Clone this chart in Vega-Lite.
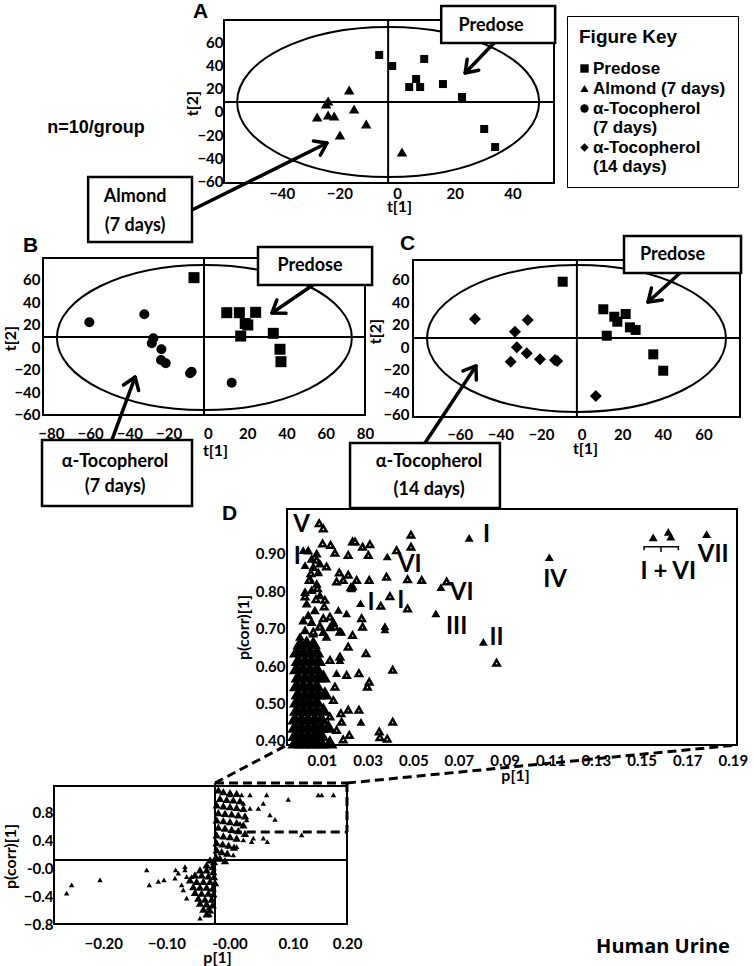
{
  "$schema": "https://vega.github.io/schema/vega-lite/v6.json",
  "background": "white",
  "width": 754,
  "height": 966,
  "autosize": {"type": "none"},
  "padding": 0,
  "resolve": {"scale": {"x": "independent", "y": "independent"}},
  "layer": [
    {
      "encoding": {
        "x": {"field": "x", "type": "quantitative", "scale": {"domain": [-137.653, 123.733], "nice": false, "zero": false}, "axis": {"orient": "bottom", "offset": -783, "values": [-40, -20, 0, 20, 40], "labelPadding": 3, "title": "t[1]", "titleX": 399, "titleY": 15}},
        "y": {"field": "y", "type": "quantitative", "scale": {"domain": [-738.82, 96.801], "nice": false, "zero": false}, "axis": {"orient": "left", "offset": -224, "values": [-60, -40, -20, 0, 20, 40, 60], "labelPadding": 1, "title": "t[2]", "titleX": -24, "titleY": 103}}
      },
      "layer": [
        {"data": {"values": [{"x": -60, "x2": 54.4, "y": -61.5, "y2": 79.5}]}, "mark": {"type": "rect", "filled": false, "stroke": "black", "strokeWidth": 2}, "encoding": {"x2": {"field": "x2"}, "y2": {"field": "y2"}}},
        {"data": {"values": [{"x": -3.1, "y": 8.6}]}, "mark": {"type": "point", "shape": "M 1 0 C 1 0.2745 0.5523 0.497 0 0.497 C -0.5523 0.497 -1 0.2745 -1 0 C -1 -0.2745 -0.5523 -0.497 0 -0.497 C 0.5523 -0.497 1 -0.2745 1 0 Z", "size": 91204, "filled": false, "stroke": "black", "strokeWidth": 2, "opacity": 1}},
        {"data": {"values": [
          {"seg": "v", "i": 0, "x": -3.1, "y": -61.5}, {"seg": "v", "i": 1, "x": -3.1, "y": 79.5},
          {"seg": "h", "i": 0, "x": -60, "y": 8.6}, {"seg": "h", "i": 1, "x": 54.4, "y": 8.6}]},
         "mark": {"type": "line", "stroke": "black", "strokeWidth": 2},
         "encoding": {"detail": {"field": "seg"}, "order": {"field": "i"}}},
        {"data": {"values": [
          {"group": "Predose", "x": -6.2, "y": 49.2}, {"group": "Predose", "x": -1.7, "y": 39.7}, {"group": "Predose", "x": 9.4, "y": 45.8},
          {"group": "Predose", "x": 6.6, "y": 28.5}, {"group": "Predose", "x": 4.2, "y": 21.5}, {"group": "Predose", "x": 8.0, "y": 21.5},
          {"group": "Predose", "x": 15.9, "y": 24.1}, {"group": "Predose", "x": 22.5, "y": 12.9}, {"group": "Predose", "x": 30.2, "y": -14.8},
          {"group": "Predose", "x": 34.0, "y": -30.4}]},
         "mark": {"type": "point", "filled": true, "color": "black", "opacity": 1, "size": 64},
         "encoding": {"shape": {"field": "group", "type": "nominal", "scale": {"domain": ["Predose", "Almond (7 days)", "α-Tocopherol (7 days)", "α-Tocopherol (14 days)"], "range": ["square", "triangle-up", "circle", "diamond"]},
           "legend": {"title": "Figure Key", "orient": "none", "legendX": 567, "legendY": 16,
             "labelExpr": "datum.label == 'α-Tocopherol (7 days)' ? ['α-Tocopherol', '(7 days)'] : datum.label == 'α-Tocopherol (14 days)' ? ['α-Tocopherol', '(14 days)'] : datum.label",
             "encode": {"legend": {"update": {"strokeWidth": {"value": 2.5}}}, "labels": {"update": {"lineHeight": {"value": 21}, "dy": {"signal": "indexof(datum.value, 'Tocopherol') >= 0 ? 10 : 0"}}}}}}}},
        {"data": {"values": [
          {"group": "Almond (7 days)", "x": -16.6, "y": 18.9}, {"group": "Almond (7 days)", "x": -23.9, "y": 9.4}, {"group": "Almond (7 days)", "x": -24.6, "y": 6.8},
          {"group": "Almond (7 days)", "x": -14.9, "y": 2.5}, {"group": "Almond (7 days)", "x": -27.7, "y": -4.4}, {"group": "Almond (7 days)", "x": -23.9, "y": -2.7},
          {"group": "Almond (7 days)", "x": -21.8, "y": -3.5}, {"group": "Almond (7 days)", "x": -10.7, "y": -10.5}, {"group": "Almond (7 days)", "x": -19.8, "y": -20.0},
          {"group": "Almond (7 days)", "x": 1.7, "y": -34.7}]},
         "mark": {"type": "point", "filled": true, "color": "black", "opacity": 1, "size": 110},
         "encoding": {"shape": {"field": "group", "type": "nominal", "scale": {"domain": ["Predose", "Almond (7 days)", "α-Tocopherol (7 days)", "α-Tocopherol (14 days)"], "range": ["square", "triangle-up", "circle", "diamond"]},
           "legend": {"title": "Figure Key", "orient": "none", "legendX": 567, "legendY": 16,
             "labelExpr": "datum.label == 'α-Tocopherol (7 days)' ? ['α-Tocopherol', '(7 days)'] : datum.label == 'α-Tocopherol (14 days)' ? ['α-Tocopherol', '(14 days)'] : datum.label",
             "encode": {"legend": {"update": {"strokeWidth": {"value": 2.5}}}, "labels": {"update": {"lineHeight": {"value": 21}, "dy": {"signal": "indexof(datum.value, 'Tocopherol') >= 0 ? 10 : 0"}}}}}}}},
        {"data": {"values": [
          {"seg": "s1", "i": 0, "x": 33.6, "y": 59.6}, {"seg": "s1", "i": 1, "x": 23.6, "y": 33.7},
          {"seg": "h1", "i": 0, "x": 28.3, "y": 36.0}, {"seg": "h1", "i": 1, "x": 23.6, "y": 33.7}, {"seg": "h1", "i": 2, "x": 24.3, "y": 45.6},
          {"seg": "s2", "i": 0, "x": -71.1, "y": -84.9}, {"seg": "s2", "i": 1, "x": -24.3, "y": -26.9},
          {"seg": "h2", "i": 0, "x": -29.0, "y": -25.1}, {"seg": "h2", "i": 1, "x": -24.3, "y": -26.9}, {"seg": "h2", "i": 2, "x": -26.6, "y": -37.5}]},
         "mark": {"type": "line", "stroke": "black", "strokeWidth": 3.5, "strokeCap": "round", "strokeJoin": "round"},
         "encoding": {"detail": {"field": "seg"}, "order": {"field": "i"}}},
        {"data": {"values": [{"x": 15.3, "x2": 54.8, "y": 91.6, "y2": 59.6}, {"x": -107.1, "x2": -71.1, "y": -56.3, "y2": -112.5}]},
         "mark": {"type": "rect", "fill": "white", "stroke": "black", "strokeWidth": 2.5},
         "encoding": {"x2": {"field": "x2"}, "y2": {"field": "y2"}}},
        {"data": {"values": [{"x": 32.6, "y": 73.9, "label": "Predose"}, {"x": -90.8, "y": -74.0, "label": "Almond"}, {"x": -90.8, "y": -98.7, "label": "(7 days)"}]},
         "mark": {"type": "text", "font": "Lato", "fontSize": 18, "fontWeight": "bold", "color": "black"},
         "encoding": {"text": {"field": "label", "type": "nominal"}}},
        {"data": {"values": [{"x": -104.37, "y": -13.92, "label": "n=10/group"}]},
         "mark": {"type": "text", "font": "Liberation Sans", "fontSize": 18, "fontWeight": "bold", "color": "black"},
         "encoding": {"text": {"field": "label", "type": "nominal"}}},
        {"data": {"values": [{"x": -70.75, "y": 81.23, "label": "A"}]},
         "mark": {"type": "text", "font": "Liberation Sans", "fontSize": 21, "fontWeight": "bold", "color": "black", "align": "left", "baseline": "alphabetic"},
         "encoding": {"text": {"field": "label", "type": "nominal"}}}
      ]
    },
    {
      "encoding": {
        "x": {"field": "x", "type": "quantitative", "scale": {"domain": [-105.901, 278.124], "nice": false, "zero": false}, "axis": {"orient": "bottom", "offset": -551, "values": [-80, -60, -40, -20, 0, 20, 40, 60, 80], "labelPadding": 11, "title": "t[1]", "titleX": 215, "titleY": 27}},
        "y": {"field": "y", "type": "quantitative", "scale": {"domain": [-547.829, 307.42], "nice": false, "zero": false}, "axis": {"orient": "left", "offset": -43, "values": [-60, -40, -20, 0, 20, 40, 60], "labelPadding": 3, "title": "t[2]", "titleX": -25, "titleY": 338}}
      },
      "layer": [
        {"data": {"values": [{"x": -84, "x2": 80, "y": -60, "y2": 79}]}, "mark": {"type": "rect", "filled": false, "stroke": "black", "strokeWidth": 2}, "encoding": {"x2": {"field": "x2"}, "y2": {"field": "y2"}}},
        {"data": {"values": [{"x": -1.8, "y": 8.6}]}, "mark": {"type": "point", "shape": "M 1 0 C 1 0.2715 0.5523 0.4915 0 0.4915 C -0.5523 0.4915 -1 0.2715 -1 0 C -1 -0.2715 -0.5523 -0.4915 0 -0.4915 C 0.5523 -0.4915 1 -0.2715 1 0 Z", "size": 87025, "filled": false, "stroke": "black", "strokeWidth": 2, "opacity": 1}},
        {"data": {"values": [
          {"seg": "v", "i": 0, "x": -2.0, "y": -60}, {"seg": "v", "i": 1, "x": -2.0, "y": 79},
          {"seg": "h", "i": 0, "x": -84, "y": 9.1}, {"seg": "h", "i": 1, "x": 80, "y": 9.1}]},
         "mark": {"type": "line", "stroke": "black", "strokeWidth": 2},
         "encoding": {"detail": {"field": "seg"}, "order": {"field": "i"}}},
        {"data": {"values": [
          {"group": "Predose", "x": -7.1, "y": 61.6}, {"group": "Predose", "x": 9.6, "y": 30.6}, {"group": "Predose", "x": 16.0, "y": 30.6},
          {"group": "Predose", "x": 24.3, "y": 30.9}, {"group": "Predose", "x": 20.3, "y": 19.7}, {"group": "Predose", "x": 16.7, "y": 9.9},
          {"group": "Predose", "x": 33.3, "y": 12.3}, {"group": "Predose", "x": 36.7, "y": -1.8}, {"group": "Predose", "x": 37.2, "y": -12.8},
          {"group": "Predose", "x": 19.0, "y": 21.0}]},
         "mark": {"type": "point", "filled": true, "color": "black", "opacity": 1, "size": 121},
         "encoding": {"shape": {"field": "group", "type": "nominal", "scale": {"domain": ["Predose", "Almond (7 days)", "α-Tocopherol (7 days)", "α-Tocopherol (14 days)"], "range": ["square", "triangle-up", "circle", "diamond"]},
           "legend": {"title": "Figure Key", "orient": "none", "legendX": 567, "legendY": 16,
             "labelExpr": "datum.label == 'α-Tocopherol (7 days)' ? ['α-Tocopherol', '(7 days)'] : datum.label == 'α-Tocopherol (14 days)' ? ['α-Tocopherol', '(14 days)'] : datum.label",
             "encode": {"legend": {"update": {"strokeWidth": {"value": 2.5}}}, "labels": {"update": {"lineHeight": {"value": 21}, "dy": {"signal": "indexof(datum.value, 'Tocopherol') >= 0 ? 10 : 0"}}}}}}}},
        {"data": {"values": [
          {"group": "α-Tocopherol (7 days)", "x": -60.4, "y": 22.1}, {"group": "α-Tocopherol (7 days)", "x": -32.4, "y": 29.2}, {"group": "α-Tocopherol (7 days)", "x": -27.8, "y": 7.9},
          {"group": "α-Tocopherol (7 days)", "x": -28.6, "y": 3.5}, {"group": "α-Tocopherol (7 days)", "x": -23.7, "y": -1.8}, {"group": "α-Tocopherol (7 days)", "x": -23.9, "y": -11.3},
          {"group": "α-Tocopherol (7 days)", "x": -21.5, "y": -14.2}, {"group": "α-Tocopherol (7 days)", "x": -8.3, "y": -21.7}, {"group": "α-Tocopherol (7 days)", "x": -9.1, "y": -23.1},
          {"group": "α-Tocopherol (7 days)", "x": 12.1, "y": -31.4}]},
         "mark": {"type": "point", "filled": true, "color": "black", "opacity": 1, "size": 100},
         "encoding": {"shape": {"field": "group", "type": "nominal", "scale": {"domain": ["Predose", "Almond (7 days)", "α-Tocopherol (7 days)", "α-Tocopherol (14 days)"], "range": ["square", "triangle-up", "circle", "diamond"]},
           "legend": {"title": "Figure Key", "orient": "none", "legendX": 567, "legendY": 16,
             "labelExpr": "datum.label == 'α-Tocopherol (7 days)' ? ['α-Tocopherol', '(7 days)'] : datum.label == 'α-Tocopherol (14 days)' ? ['α-Tocopherol', '(14 days)'] : datum.label",
             "encode": {"legend": {"update": {"strokeWidth": {"value": 2.5}}}, "labels": {"update": {"lineHeight": {"value": 21}, "dy": {"signal": "indexof(datum.value, 'Tocopherol') >= 0 ? 10 : 0"}}}}}}}},
        {"data": {"values": [
          {"seg": "s1", "i": 0, "x": 53.5, "y": 55.1}, {"seg": "s1", "i": 1, "x": 32.6, "y": 30.3},
          {"seg": "h1", "i": 0, "x": 39.8, "y": 30.1}, {"seg": "h1", "i": 1, "x": 32.6, "y": 30.3}, {"seg": "h1", "i": 2, "x": 35.1, "y": 41.9},
          {"seg": "s2", "i": 0, "x": -48.9, "y": -82.1}, {"seg": "s2", "i": 1, "x": -37.1, "y": -26.4},
          {"seg": "h2", "i": 0, "x": -43.0, "y": -33.4}, {"seg": "h2", "i": 1, "x": -37.1, "y": -26.4}, {"seg": "h2", "i": 2, "x": -35.3, "y": -38.3}]},
         "mark": {"type": "line", "stroke": "black", "strokeWidth": 3.5, "strokeCap": "round", "strokeJoin": "round"},
         "encoding": {"detail": {"field": "seg"}, "order": {"field": "i"}}},
        {"data": {"values": [{"x": 25.5, "x2": 83.6, "y": 88.7, "y2": 55.1}, {"x": -84.5, "x2": -8.1, "y": -82.1, "y2": -140.6}]},
         "mark": {"type": "rect", "fill": "white", "stroke": "black", "strokeWidth": 2.5},
         "encoding": {"x2": {"field": "x2"}, "y2": {"field": "y2"}}},
        {"data": {"values": [{"x": 52.0, "y": 71.9, "label": "Predose"}, {"x": -47.3, "y": -101.6, "label": "α-Tocopherol"}, {"x": -47.3, "y": -123.7, "label": "(7 days)"}]},
         "mark": {"type": "text", "font": "Lato", "fontSize": 18, "fontWeight": "bold", "color": "black"},
         "encoding": {"text": {"field": "label", "type": "nominal"}}},
        {"data": {"values": [{"x": -94.19, "y": 84.31, "label": "B"}]},
         "mark": {"type": "text", "font": "Liberation Sans", "fontSize": 21, "fontWeight": "bold", "color": "black", "align": "left", "baseline": "alphabetic"},
         "encoding": {"text": {"field": "label", "type": "nominal"}}}
      ]
    },
    {
      "encoding": {
        "x": {"field": "x", "type": "quantitative", "scale": {"domain": [-286.342, 84.893], "nice": false, "zero": false}, "axis": {"orient": "bottom", "offset": -549, "values": [-60, -40, -20, 0, 20, 40, 60], "labelPadding": 10, "title": "t[1]", "titleX": 585, "titleY": 23}},
        "y": {"field": "y", "type": "quantitative", "scale": {"domain": [-547.829, 307.42], "nice": false, "zero": false}, "axis": {"orient": "left", "offset": -413, "values": [-60, -40, -20, 0, 20, 40, 60], "labelPadding": 4, "title": "t[2]", "titleX": -30, "titleY": 331}}
      },
      "layer": [
        {"data": {"values": [{"x": -83, "x2": 78, "y": -61.77, "y2": 77.23}]}, "mark": {"type": "rect", "filled": false, "stroke": "black", "strokeWidth": 2}, "encoding": {"x2": {"field": "x2"}, "y2": {"field": "y2"}}},
        {"data": {"values": [{"x": -2.5, "y": 7.7}]}, "mark": {"type": "point", "shape": "M 1 0 C 1 0.2715 0.5523 0.4915 0 0.4915 C -0.5523 0.4915 -1 0.2715 -1 0 C -1 -0.2715 -0.5523 -0.4915 0 -0.4915 C 0.5523 -0.4915 1 -0.2715 1 0 Z", "size": 89401, "filled": false, "stroke": "black", "strokeWidth": 2, "opacity": 1}},
        {"data": {"values": [
          {"seg": "v", "i": 0, "x": -2.3, "y": -61.77}, {"seg": "v", "i": 1, "x": -2.3, "y": 77.23},
          {"seg": "h", "i": 0, "x": -83, "y": 8.2}, {"seg": "h", "i": 1, "x": 78, "y": 8.2}]},
         "mark": {"type": "line", "stroke": "black", "strokeWidth": 2},
         "encoding": {"detail": {"field": "seg"}, "order": {"field": "i"}}},
        {"data": {"values": [
          {"group": "Predose", "x": -9.3, "y": 58.0}, {"group": "Predose", "x": 10.7, "y": 33.6}, {"group": "Predose", "x": 16.1, "y": 27.0},
          {"group": "Predose", "x": 21.7, "y": 29.4}, {"group": "Predose", "x": 17.6, "y": 22.6}, {"group": "Predose", "x": 23.8, "y": 17.6},
          {"group": "Predose", "x": 26.6, "y": 15.3}, {"group": "Predose", "x": 12.4, "y": 10.2}, {"group": "Predose", "x": 35.3, "y": -6.3},
          {"group": "Predose", "x": 40.2, "y": -20.8}]},
         "mark": {"type": "point", "filled": true, "color": "black", "opacity": 1, "size": 100},
         "encoding": {"shape": {"field": "group", "type": "nominal", "scale": {"domain": ["Predose", "Almond (7 days)", "α-Tocopherol (7 days)", "α-Tocopherol (14 days)"], "range": ["square", "triangle-up", "circle", "diamond"]},
           "legend": {"title": "Figure Key", "orient": "none", "legendX": 567, "legendY": 16,
             "labelExpr": "datum.label == 'α-Tocopherol (7 days)' ? ['α-Tocopherol', '(7 days)'] : datum.label == 'α-Tocopherol (14 days)' ? ['α-Tocopherol', '(14 days)'] : datum.label",
             "encode": {"legend": {"update": {"strokeWidth": {"value": 2.5}}}, "labels": {"update": {"lineHeight": {"value": 21}, "dy": {"signal": "indexof(datum.value, 'Tocopherol') >= 0 ? 10 : 0"}}}}}}}},
        {"data": {"values": [
          {"group": "α-Tocopherol (14 days)", "x": -52.5, "y": 25.0}, {"group": "α-Tocopherol (14 days)", "x": -26.5, "y": 24.1}, {"group": "α-Tocopherol (14 days)", "x": -32.8, "y": 13.7},
          {"group": "α-Tocopherol (14 days)", "x": -31.9, "y": -0.1}, {"group": "α-Tocopherol (14 days)", "x": -27.0, "y": -5.4}, {"group": "α-Tocopherol (14 days)", "x": -20.5, "y": -10.7},
          {"group": "α-Tocopherol (14 days)", "x": -34.9, "y": -12.8}, {"group": "α-Tocopherol (14 days)", "x": -13.1, "y": -11.3}, {"group": "α-Tocopherol (14 days)", "x": 7.0, "y": -43.2},
          {"group": "α-Tocopherol (14 days)", "x": -12.0, "y": -12.3}]},
         "mark": {"type": "point", "filled": true, "color": "black", "opacity": 1, "size": 144},
         "encoding": {"shape": {"field": "group", "type": "nominal", "scale": {"domain": ["Predose", "Almond (7 days)", "α-Tocopherol (7 days)", "α-Tocopherol (14 days)"], "range": ["square", "triangle-up", "circle", "diamond"]},
           "legend": {"title": "Figure Key", "orient": "none", "legendX": 567, "legendY": 16,
             "labelExpr": "datum.label == 'α-Tocopherol (7 days)' ? ['α-Tocopherol', '(7 days)'] : datum.label == 'α-Tocopherol (14 days)' ? ['α-Tocopherol', '(14 days)'] : datum.label",
             "encode": {"legend": {"update": {"strokeWidth": {"value": 2.5}}}, "labels": {"update": {"lineHeight": {"value": 21}, "dy": {"signal": "indexof(datum.value, 'Tocopherol') >= 0 ? 10 : 0"}}}}}}}},
        {"data": {"values": [
          {"seg": "s1", "i": 0, "x": 48.5, "y": 65.7}, {"seg": "s1", "i": 1, "x": 32.7, "y": 40.0},
          {"seg": "h1", "i": 0, "x": 39.7, "y": 41.8}, {"seg": "h1", "i": 1, "x": 32.7, "y": 40.0}, {"seg": "h1", "i": 2, "x": 34.4, "y": 52.4},
          {"seg": "s2", "i": 0, "x": -77.1, "y": -84.8}, {"seg": "s2", "i": 1, "x": -52.0, "y": -16.6},
          {"seg": "h2", "i": 0, "x": -58.4, "y": -21.0}, {"seg": "h2", "i": 1, "x": -52.0, "y": -16.6}, {"seg": "h2", "i": 2, "x": -51.8, "y": -29.0}]},
         "mark": {"type": "line", "stroke": "black", "strokeWidth": 3.5, "strokeCap": "round", "strokeJoin": "round"},
         "encoding": {"detail": {"field": "seg"}, "order": {"field": "i"}}},
        {"data": {"values": [{"x": 20.9, "x2": 78.5, "y": 98.5, "y2": 65.7}, {"x": -114.0, "x2": -40.2, "y": -84.8, "y2": -142.3}]},
         "mark": {"type": "rect", "fill": "white", "stroke": "black", "strokeWidth": 2.5},
         "encoding": {"x2": {"field": "x2"}, "y2": {"field": "y2"}}},
        {"data": {"values": [{"x": 44.8, "y": 81.7, "label": "Predose"}, {"x": -75.1, "y": -101.6, "label": "α-Tocopherol"}, {"x": -75.1, "y": -126.4, "label": "(14 days)"}]},
         "mark": {"type": "text", "font": "Lato", "fontSize": 18, "fontWeight": "bold", "color": "black"},
         "encoding": {"text": {"field": "label", "type": "nominal"}}},
        {"data": {"values": [{"x": -89.4, "y": 86.08, "label": "C"}]},
         "mark": {"type": "text", "font": "Liberation Sans", "fontSize": 21, "fontWeight": "bold", "color": "black", "align": "left", "baseline": "alphabetic"},
         "encoding": {"text": {"field": "label", "type": "nominal"}}}
      ]
    },
    {
      "encoding": {
        "x": {"field": "x", "type": "quantitative", "scale": {"domain": [-0.131006, 0.199246], "nice": false, "zero": false}, "axis": {"orient": "bottom", "offset": -221, "values": [0.01, 0.03, 0.05, 0.07, 0.09, 0.11, 0.13, 0.15, 0.17, 0.19], "format": ".2f", "labelPadding": 8, "title": "p[1]", "titleX": 515, "titleY": 22}},
        "y": {"field": "y", "type": "quantitative", "scale": {"domain": [-0.20189, 2.38093], "nice": false, "zero": false}, "axis": {"orient": "left", "offset": -287, "values": [0.4, 0.5, 0.6, 0.7, 0.8, 0.9], "format": ".2f", "labelPadding": 2, "title": "p(corr)[1]", "titleX": -36, "titleY": 627}}
      },
      "layer": [
        {"data": {"values": [{"x": -0.0053, "x2": 0.1918, "y": 0.389, "y2": 1.02}]}, "mark": {"type": "rect", "filled": false, "stroke": "black", "strokeWidth": 2}, "encoding": {"x2": {"field": "x2"}, "y2": {"field": "y2"}}},
        {"data": {"values": [
          {"x": 0.0004, "y": 0.661}, {"x": 0.0033, "y": 0.661}, {"x": 0.0062, "y": 0.661},
          {"x": -0.0011, "y": 0.639}, {"x": 0.0018, "y": 0.639}, {"x": 0.0047, "y": 0.639}, {"x": 0.0077, "y": 0.639},
          {"x": -0.0004, "y": 0.616}, {"x": 0.0026, "y": 0.616}, {"x": 0.0055, "y": 0.616}, {"x": 0.0084, "y": 0.616},
          {"x": -0.0011, "y": 0.594}, {"x": 0.0018, "y": 0.594}, {"x": 0.0047, "y": 0.594}, {"x": 0.0077, "y": 0.594},
          {"x": -0.0004, "y": 0.572}, {"x": 0.0026, "y": 0.572}, {"x": 0.0055, "y": 0.572}, {"x": 0.0084, "y": 0.572}, {"x": 0.0106, "y": 0.572},
          {"x": -0.0011, "y": 0.549}, {"x": 0.0018, "y": 0.549}, {"x": 0.0047, "y": 0.549}, {"x": 0.0077, "y": 0.549},
          {"x": -0.0004, "y": 0.527}, {"x": 0.0026, "y": 0.527}, {"x": 0.0055, "y": 0.527}, {"x": 0.0084, "y": 0.527}, {"x": 0.0113, "y": 0.527},
          {"x": -0.0011, "y": 0.505}, {"x": 0.0018, "y": 0.505}, {"x": 0.0047, "y": 0.505}, {"x": 0.0077, "y": 0.505},
          {"x": -0.0011, "y": 0.483}, {"x": 0.0018, "y": 0.483}, {"x": 0.0047, "y": 0.483}, {"x": 0.0077, "y": 0.483}, {"x": 0.0106, "y": 0.483},
          {"x": -0.0018, "y": 0.46}, {"x": 0.0011, "y": 0.46}, {"x": 0.004, "y": 0.46}, {"x": 0.0069, "y": 0.46}, {"x": 0.0098, "y": 0.46},
          {"x": -0.0018, "y": 0.438}, {"x": 0.0011, "y": 0.438}, {"x": 0.004, "y": 0.438}, {"x": 0.0069, "y": 0.438}, {"x": 0.0098, "y": 0.438}, {"x": 0.0128, "y": 0.438},
          {"x": -0.0018, "y": 0.416}, {"x": 0.0011, "y": 0.416}, {"x": 0.004, "y": 0.416}, {"x": 0.0069, "y": 0.416}, {"x": 0.0098, "y": 0.416},
          {"x": -0.0018, "y": 0.396}, {"x": 0.0011, "y": 0.396}, {"x": 0.004, "y": 0.396}, {"x": 0.0069, "y": 0.396}, {"x": 0.0098, "y": 0.396}, {"x": 0.0135, "y": 0.396}]},
         "mark": {"type": "point", "shape": "triangle-up", "filled": true, "color": "black", "stroke": "black", "strokeWidth": 2.5, "opacity": 1, "size": 120}},
        {"data": {"values": [
          {"x": 0.004, "y": 0.91}, {"x": 0.0077, "y": 0.902}, {"x": 0.0055, "y": 0.888}, {"x": 0.0091, "y": 0.875}, {"x": 0.0062, "y": 0.866},
          {"x": 0.0084, "y": 0.852}, {"x": 0.0047, "y": 0.835}, {"x": 0.0077, "y": 0.821}, {"x": 0.0026, "y": 0.799}, {"x": 0.0055, "y": 0.804},
          {"x": 0.0091, "y": 0.79}, {"x": 0.0033, "y": 0.768}, {"x": 0.0069, "y": 0.75}, {"x": 0.004, "y": 0.737}, {"x": 0.0018, "y": 0.723},
          {"x": 0.0055, "y": 0.719}, {"x": 0.0091, "y": 0.71}, {"x": 0.0026, "y": 0.697}, {"x": 0.0062, "y": 0.688}, {"x": 0.0106, "y": 0.692},
          {"x": 0.0135, "y": 0.705}, {"x": 0.015, "y": 0.719}, {"x": 0.012, "y": 0.679}, {"x": 0.0004, "y": 0.679}, {"x": 0.0033, "y": 0.67}]},
         "mark": {"type": "point", "shape": "triangle-up", "filled": true, "color": "black", "opacity": 1, "size": 100}},
        {"data": {"values": [
          {"x": 0.0088, "y": 0.982}, {"x": 0.0106, "y": 0.968}, {"x": 0.0103, "y": 0.928}, {"x": 0.0138, "y": 0.924}, {"x": 0.0157, "y": 0.903},
          {"x": 0.0215, "y": 0.897}, {"x": 0.0234, "y": 0.933}, {"x": 0.0245, "y": 0.933}, {"x": 0.0278, "y": 0.919}, {"x": 0.0303, "y": 0.897},
          {"x": 0.031, "y": 0.926}, {"x": 0.0427, "y": 0.91}, {"x": 0.049, "y": 0.951}, {"x": 0.049, "y": 0.919}, {"x": 0.0475, "y": 0.832},
          {"x": 0.0537, "y": 0.83}, {"x": 0.0646, "y": 0.826}, {"x": 0.0383, "y": 0.839}, {"x": 0.0307, "y": 0.83}, {"x": 0.0252, "y": 0.83},
          {"x": 0.0215, "y": 0.844}, {"x": 0.0193, "y": 0.83}, {"x": 0.0164, "y": 0.826}, {"x": 0.0176, "y": 0.85}, {"x": 0.0227, "y": 0.811},
          {"x": 0.011, "y": 0.759}, {"x": 0.0074, "y": 0.779}, {"x": 0.0026, "y": 0.786}, {"x": 0.0113, "y": 0.777}, {"x": 0.0044, "y": 0.83},
          {"x": 0.0052, "y": 0.848}, {"x": 0.008, "y": 0.808}, {"x": 0.0106, "y": 0.728}, {"x": 0.0274, "y": 0.728}, {"x": 0.0278, "y": 0.705},
          {"x": 0.0398, "y": 0.787}, {"x": 0.0358, "y": 0.761}, {"x": 0.0475, "y": 0.754}, {"x": 0.0234, "y": 0.683}, {"x": 0.0293, "y": 0.634},
          {"x": 0.041, "y": 0.59}, {"x": 0.0262, "y": 0.581}, {"x": 0.0208, "y": 0.576}, {"x": 0.0307, "y": 0.558}, {"x": 0.0299, "y": 0.545},
          {"x": 0.0215, "y": 0.483}, {"x": 0.0262, "y": 0.483}, {"x": 0.0183, "y": 0.474}, {"x": 0.0186, "y": 0.451}, {"x": 0.041, "y": 0.451},
          {"x": 0.022, "y": 0.416}, {"x": 0.0351, "y": 0.425}, {"x": 0.0354, "y": 0.41}, {"x": 0.0386, "y": 0.406}, {"x": 0.0193, "y": 0.404},
          {"x": 0.0865, "y": 0.609}, {"x": 0.0135, "y": 0.732}, {"x": 0.0157, "y": 0.705}, {"x": 0.0179, "y": 0.692}, {"x": 0.0091, "y": 0.705},
          {"x": 0.0062, "y": 0.692}, {"x": 0.0215, "y": 0.652}, {"x": 0.0179, "y": 0.625}, {"x": 0.0135, "y": 0.616}, {"x": 0.0157, "y": 0.545},
          {"x": 0.015, "y": 0.509}, {"x": 0.0135, "y": 0.465}, {"x": 0.0164, "y": 0.429}, {"x": 0.012, "y": 0.866}, {"x": 0.0077, "y": 0.884}]},
         "mark": {"type": "point", "shape": "triangle-up", "filled": true, "fill": "white", "stroke": "black", "strokeWidth": 2.5, "opacity": 1, "size": 40}},
        {"data": {"values": [
          {"x": 0.0018, "y": 0.91}, {"x": 0.0026, "y": 0.87}, {"x": 0.0386, "y": 0.893}, {"x": 0.0745, "y": 0.943}, {"x": 0.0621, "y": 0.811},
          {"x": 0.0269, "y": 0.768}, {"x": 0.0599, "y": 0.741}, {"x": 0.0807, "y": 0.665}, {"x": 0.0376, "y": 0.707}, {"x": 0.0376, "y": 0.698},
          {"x": 0.0271, "y": 0.451}, {"x": 0.0208, "y": 0.741}, {"x": 0.0172, "y": 0.75}, {"x": 0.0237, "y": 0.813}, {"x": 0.023, "y": 0.808},
          {"x": 0.0186, "y": 0.692}, {"x": 0.0164, "y": 0.581}, {"x": 0.0179, "y": 0.616}, {"x": 0.1096, "y": 0.891}, {"x": 0.1551, "y": 0.944},
          {"x": 0.1617, "y": 0.959}, {"x": 0.1628, "y": 0.946}, {"x": 0.1785, "y": 0.953}]},
         "mark": {"type": "point", "shape": "triangle-up", "filled": true, "color": "black", "opacity": 1, "size": 80}},
        {"data": {"values": [
          {"seg": "b1", "i": 0, "x": 0.1511, "y": 0.91}, {"seg": "b1", "i": 1, "x": 0.1511, "y": 0.919}, {"seg": "b1", "i": 2, "x": 0.1661, "y": 0.919}, {"seg": "b1", "i": 3, "x": 0.1661, "y": 0.91},
          {"seg": "b2", "i": 0, "x": 0.1585, "y": 0.919}, {"seg": "b2", "i": 1, "x": 0.1585, "y": 0.905}]},
         "mark": {"type": "line", "stroke": "black", "strokeWidth": 1.5},
         "encoding": {"detail": {"field": "seg"}, "order": {"field": "i"}}},
        {"data": {"values": [
          {"x": 0.0011, "y": 0.977, "label": "V"}, {"x": -0.0008, "y": 0.891, "label": "I"}, {"x": 0.0821, "y": 0.95, "label": "I"},
          {"x": 0.0485, "y": 0.87, "label": "VI"}, {"x": 0.0712, "y": 0.795, "label": "VI"}, {"x": 0.0315, "y": 0.768, "label": "I"},
          {"x": 0.0445, "y": 0.774, "label": "I"}, {"x": 0.069, "y": 0.705, "label": "III"}, {"x": 0.0865, "y": 0.674, "label": "II"},
          {"x": 0.1121, "y": 0.83, "label": "IV"}, {"x": 0.1617, "y": 0.852, "label": "I + VI"}, {"x": 0.1814, "y": 0.897, "label": "VII"}]},
         "mark": {"type": "text", "font": "Lato", "fontSize": 24, "fontWeight": "bold", "color": "black"},
         "encoding": {"text": {"field": "label", "type": "nominal"}}},
        {"data": {"values": [{"x": -0.03377, "y": 0.99059, "label": "D"}]},
         "mark": {"type": "text", "font": "Liberation Sans", "fontSize": 21, "fontWeight": "bold", "color": "black", "align": "left", "baseline": "alphabetic"},
         "encoding": {"text": {"field": "label", "type": "nominal"}}}
      ]
    },
    {
      "encoding": {
        "x": {"field": "x", "type": "quantitative", "scale": {"domain": [-0.363243, 0.829795], "nice": false, "zero": false}, "axis": {"orient": "bottom", "offset": -42, "values": [-0.2, -0.1, 0, 0.1, 0.1858], "labelExpr": "datum.value > 0.15 ? '0.20' : datum.value == 0 ? '-0.00' : format(datum.value, '.2f')", "labelPadding": 12, "title": "p[1]", "titleX": 217, "titleY": 25}},
        "y": {"field": "y", "type": "quantitative", "scale": {"domain": [-1.40078, 12.4172], "nice": false, "zero": false}, "axis": {"orient": "left", "offset": -54, "values": [-0.8, -0.4, 0, 0.4, 0.8], "labelExpr": "datum.value == 0 ? '-0.0' : format(datum.value, '.1f')", "labelPadding": 1, "title": "p(corr)[1]", "titleX": -36, "titleY": 856}}
      },
      "layer": [
        {"data": {"values": [{"x": -0.2778, "x2": 0.1858, "y": -0.8, "y2": 1.174}]}, "mark": {"type": "rect", "filled": false, "stroke": "black", "strokeWidth": 2}, "encoding": {"x2": {"field": "x2"}, "y2": {"field": "y2"}}},
        {"data": {"values": [
          {"seg": "v", "i": 0, "x": -0.0231, "y": -0.8}, {"seg": "v", "i": 1, "x": -0.0231, "y": 1.217},
          {"seg": "h", "i": 0, "x": -0.2778, "y": 0.117}, {"seg": "h", "i": 1, "x": 0.1858, "y": 0.117}]},
         "mark": {"type": "line", "stroke": "black", "strokeWidth": 2},
         "encoding": {"detail": {"field": "seg"}, "order": {"field": "i"}}},
        {"data": {"values": [
          {"x": -0.031, "y": 0.117}, {"x": -0.0247, "y": 0.093}, {"x": -0.0363, "y": 0.046}, {"x": -0.0268, "y": 0.022}, {"x": -0.0468, "y": -0.026},
          {"x": -0.0363, "y": -0.026}, {"x": -0.0257, "y": -0.05}, {"x": -0.0547, "y": -0.097}, {"x": -0.0442, "y": -0.097}, {"x": -0.0336, "y": -0.111},
          {"x": -0.0247, "y": -0.121}, {"x": -0.0626, "y": -0.168}, {"x": -0.0521, "y": -0.192}, {"x": -0.0415, "y": -0.192}, {"x": -0.031, "y": -0.192},
          {"x": -0.0231, "y": -0.207}, {"x": -0.0574, "y": -0.264}, {"x": -0.0468, "y": -0.273}, {"x": -0.0363, "y": -0.273}, {"x": -0.0268, "y": -0.287},
          {"x": -0.0547, "y": -0.349}, {"x": -0.0442, "y": -0.359}, {"x": -0.0336, "y": -0.359}, {"x": -0.0257, "y": -0.368}, {"x": -0.0495, "y": -0.43},
          {"x": -0.0389, "y": -0.445}, {"x": -0.0283, "y": -0.445}, {"x": -0.0468, "y": -0.502}, {"x": -0.0363, "y": -0.511}, {"x": -0.0268, "y": -0.526},
          {"x": -0.0415, "y": -0.588}, {"x": -0.031, "y": -0.597}, {"x": -0.0363, "y": -0.654},
          {"x": -0.0178, "y": 1.117}, {"x": -0.0099, "y": 1.093}, {"x": 0.0007, "y": 1.079}, {"x": 0.0112, "y": 1.07}, {"x": -0.0152, "y": 0.998},
          {"x": -0.0046, "y": 0.984}, {"x": 0.0059, "y": 0.974}, {"x": 0.0165, "y": 0.965}, {"x": -0.0204, "y": 0.903}, {"x": -0.0099, "y": 0.889},
          {"x": 0.0007, "y": 0.879}, {"x": 0.0112, "y": 0.87}, {"x": 0.0218, "y": 0.855}, {"x": -0.0178, "y": 0.793}, {"x": -0.0072, "y": 0.784},
          {"x": 0.0033, "y": 0.774}, {"x": 0.0138, "y": 0.76}, {"x": 0.0244, "y": 0.746}, {"x": -0.0204, "y": 0.689}, {"x": -0.0099, "y": 0.679},
          {"x": 0.0007, "y": 0.665}, {"x": 0.0112, "y": 0.651}, {"x": 0.0218, "y": 0.617}, {"x": -0.0178, "y": 0.584}, {"x": -0.0072, "y": 0.57},
          {"x": 0.0033, "y": 0.555}, {"x": 0.0138, "y": 0.536}, {"x": 0.0244, "y": 0.498}, {"x": -0.0204, "y": 0.474}, {"x": -0.0099, "y": 0.46},
          {"x": 0.0007, "y": 0.451}, {"x": 0.0112, "y": 0.427}, {"x": -0.0204, "y": 0.365}, {"x": -0.011, "y": 0.346}, {"x": -0.0015, "y": 0.327},
          {"x": 0.007, "y": 0.298}, {"x": -0.0204, "y": 0.26}, {"x": -0.0125, "y": 0.236}, {"x": -0.0036, "y": 0.213}, {"x": -0.0215, "y": 0.165},
          {"x": -0.0152, "y": 0.141}, {"x": -0.0072, "y": 0.108}]},
         "mark": {"type": "point", "shape": "triangle-up", "filled": true, "color": "black", "opacity": 1, "size": 70}},
        {"data": {"values": [
          {"x": 0.0007, "y": 1.046}, {"x": 0.0191, "y": 1.046}, {"x": 0.0323, "y": 1.046}, {"x": 0.0587, "y": 1.046}, {"x": 0.0929, "y": 0.984},
          {"x": 0.1404, "y": 1.046}, {"x": 0.1457, "y": 1.046}, {"x": 0.1642, "y": 1.046}, {"x": 0.0218, "y": 0.927}, {"x": 0.0323, "y": 0.855},
          {"x": 0.0455, "y": 0.855}, {"x": 0.0639, "y": 0.76}, {"x": 0.0719, "y": 0.698}, {"x": 0.027, "y": 0.689}, {"x": 0.0534, "y": 0.427},
          {"x": 0.0597, "y": 0.379}, {"x": 0.1141, "y": 0.474}, {"x": 0.0218, "y": 0.403}, {"x": 0.0376, "y": 0.427}, {"x": 0.0059, "y": 0.189},
          {"x": 0.0112, "y": 0.308}, {"x": 0.0534, "y": 0.927}, {"x": 0.0165, "y": 0.641}, {"x": 0.0349, "y": 0.379},
          {"x": -0.2578, "y": -0.359}, {"x": -0.2499, "y": -0.24}, {"x": -0.205, "y": -0.168}, {"x": -0.1312, "y": -0.026}, {"x": -0.127, "y": -0.24},
          {"x": -0.1127, "y": -0.192}, {"x": -0.1038, "y": -0.168}, {"x": -0.0853, "y": -0.026}, {"x": -0.0864, "y": -0.145}, {"x": -0.0705, "y": 0.022},
          {"x": -0.0705, "y": -0.026}, {"x": -0.0679, "y": -0.121}, {"x": -0.0758, "y": -0.24}, {"x": -0.0732, "y": -0.311}, {"x": -0.0679, "y": -0.43},
          {"x": -0.0468, "y": -0.716}, {"x": -0.031, "y": -0.668}, {"x": -0.0336, "y": -0.573}, {"x": -0.0811, "y": -0.073}, {"x": -0.06, "y": -0.121}]},
         "mark": {"type": "point", "shape": "triangle-up", "filled": true, "color": "black", "opacity": 1, "size": 30}},
        {"data": {"values": [
          {"seg": "t", "i": 0, "x": -0.0231, "y": 1.217}, {"seg": "t", "i": 1, "x": 0.1858, "y": 1.217},
          {"seg": "r", "i": 0, "x": 0.1858, "y": 1.217}, {"seg": "r", "i": 1, "x": 0.1858, "y": 0.516},
          {"seg": "m", "i": 0, "x": 0.005, "y": 0.516}, {"seg": "m", "i": 1, "x": 0.1858, "y": 0.516},
          {"seg": "cr", "i": 0, "x": 0.1858, "y": 1.217}, {"seg": "cr", "i": 1, "x": 0.8029, "y": 1.7605},
          {"seg": "cl", "i": 0, "x": -0.0231, "y": 1.217}, {"seg": "cl", "i": 1, "x": 0.0909, "y": 1.7605}]},
         "mark": {"type": "line", "stroke": "black", "strokeWidth": 3, "strokeDash": [9, 5]},
         "encoding": {"detail": {"field": "seg"}, "order": {"field": "i"}}},
        {"data": {"values": [{"x": 0.6858, "y": -1.129, "label": "Human Urine"}]},
         "mark": {"type": "text", "font": "Open Sans", "fontSize": 20, "fontWeight": "bold", "color": "black"},
         "encoding": {"text": {"field": "label", "type": "nominal"}}}
      ]
    }
  ],
  "config": {
    "view": {"stroke": null},
    "axis": {"domain": false, "ticks": false, "grid": false, "labelFont": "Lato", "labelFontWeight": "bold", "labelFontSize": 15, "labelColor": "black", "titleFont": "Lato", "titleFontWeight": "bold", "titleFontSize": 16, "titleColor": "black", "labelFlush": false, "labelOverlap": false, "labelBound": false},
    "legend": {"strokeColor": "black", "padding": 12, "titleFont": "Liberation Sans", "titleFontSize": 19, "titleFontWeight": "bold", "titleColor": "black", "titlePadding": 13, "labelFont": "Liberation Sans", "labelFontSize": 17, "labelFontWeight": "bold", "labelColor": "black", "labelLimit": 400, "labelOffset": 0, "symbolOffset": -3, "symbolSize": 70, "symbolFillColor": "black", "symbolStrokeColor": "black", "symbolStrokeWidth": 0, "rowPadding": 2, "labelBaseline": "middle"}
  }
}
